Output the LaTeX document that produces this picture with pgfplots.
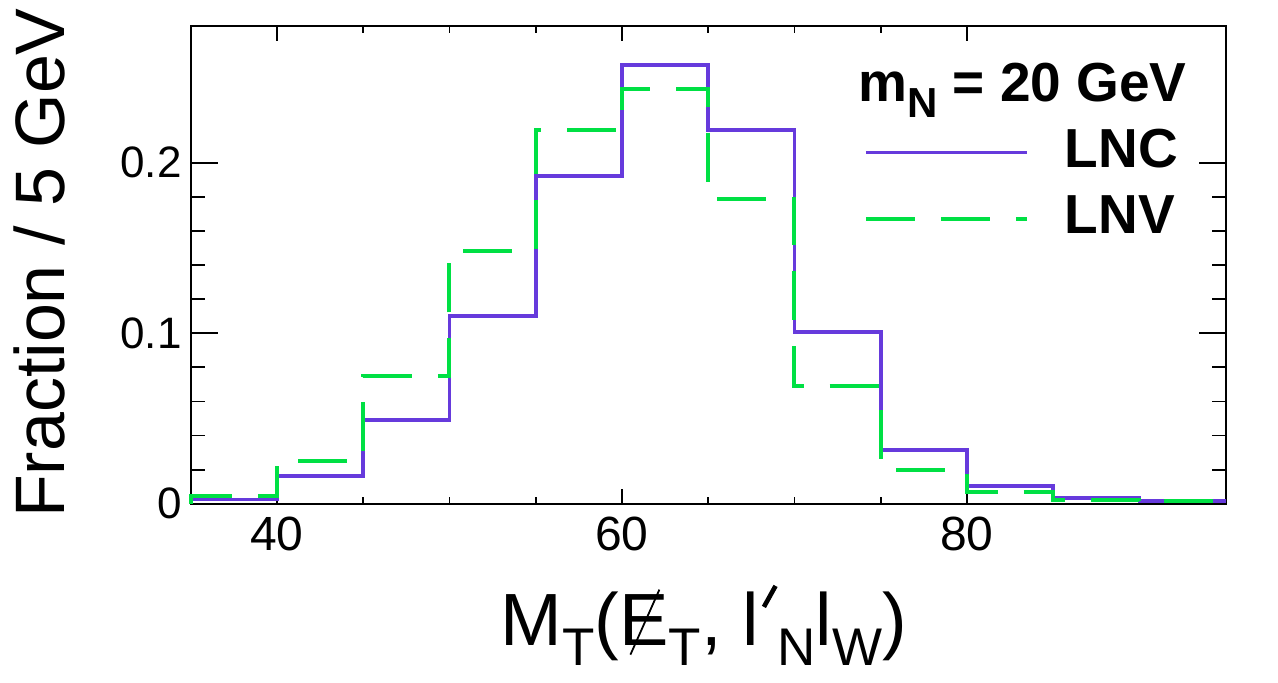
\documentclass[border=0pt]{standalone}
\usepackage{fontspec}
\setmainfont{Liberation Sans}
\usepackage{graphicx}
\usepackage{pgfplots}
\pgfplotsset{compat=1.18}
\definecolor{lnc}{RGB}{102,58,220}
\definecolor{lnv}{RGB}{0,224,68}
\newcommand\xsub[1]{\raisebox{-10pt}{\fontsize{26.5pt}{26.5pt}\selectfont #1}}
\begin{document}
\begin{tikzpicture}
\useasboundingbox (0,0) rectangle (639pt,341pt);
\begin{axis}[
  at={(95.35pt,89.15pt)}, anchor=south west,
  scale only axis, width=517.5pt, height=238.7pt,
  xmin=35, xmax=95, ymin=0, ymax=0.28,
  clip=false,
  xtick={40,60,80}, xticklabels={40,60,80}, minor x tick num=3,
  ytick={0,0.1,0.2}, yticklabels={0,0.1,0.2}, minor y tick num=4,
  /pgf/number format/assume math mode=true,
  axis line style={line width=1pt},
  every tick/.style={black, line width=0.9pt},
  xtick style={/pgfplots/major tick length=7.5pt, /pgfplots/minor tick length=3.5pt},
  ytick style={/pgfplots/major tick length=13.5pt, /pgfplots/minor tick length=7pt},
  yticklabel style={font=\fontsize{22pt}{22pt}\selectfont, inner sep=0pt, xshift=-4.35pt},
  xticklabel style={font=\fontsize{24pt}{24pt}\selectfont, inner sep=0pt, yshift=-6.5pt},
]
\addplot[const plot, color=lnc, line width=1.9pt, line join=miter] coordinates {
 (35,0) (35,0.0025) (40,0.0161) (45,0.0491) (50,0.1102) (55,0.1923) (60,0.2573)
 (65,0.2193) (70,0.1008) (75,0.0313) (80,0.0104) (85,0.0035) (90,0.0016) (95,0.0016)};
\addplot[const plot, color=lnv, line width=2pt, line join=miter, dash pattern=on 24.5pt off 13pt] coordinates {
 (35,0) (35,0.0045) (40,0.025) (45,0.075) (50,0.148) (55,0.219) (60,0.243)
 (65,0.179) (70,0.069) (75,0.020) (80,0.0068) (85,0.0023) (90,0.0014) (95,0.0014)};

\node[anchor=base east, inner sep=0pt, font=\fontsize{27.5pt}{27.5pt}\selectfont\bfseries]
  at (axis description cs:0.9626,0.8427) {m\raisebox{-7.8pt}{\fontsize{21pt}{21pt}\selectfont N} = 20 GeV};
\draw[lnc, line width=1.9pt] (axis description cs:0.6524,0.7357) -- (axis description cs:0.8080,0.7357);
\node[anchor=base west, inner sep=0pt, font=\fontsize{27.5pt}{27.5pt}\selectfont\bfseries]
  at (axis description cs:0.8443,0.7032) {LNC};
\draw[lnv, line width=2pt, dash pattern=on 24.5pt off 13pt] (axis description cs:0.6524,0.5972) -- (axis description cs:0.8080,0.5972);
\node[anchor=base west, inner sep=0pt, font=\fontsize{27.5pt}{27.5pt}\selectfont\bfseries]
  at (axis description cs:0.8443,0.5670) {LNV};

\node[rotate=90, anchor=base, inner sep=0pt, font=\fontsize{35pt}{35pt}\selectfont]
  at (axis description cs:-0.1215,0.504) {Fraction / 5 GeV};
\node[anchor=base, inner sep=0pt, font=\fontsize{37pt}{37pt}\selectfont]
  at (axis description cs:0.4959,-0.296)
  {M\xsub{T}(\makebox[0pt][l]{\hspace{5pt}\raisebox{-5pt}{\rotatebox{66}{\rule{35.6pt}{0.9pt}}}}E\xsub{T}, l\hspace{1.5pt}\raisebox{18.5pt}{\rotatebox{61}{\rule{12pt}{2.3pt}}}\xsub{N}l\xsub{W})};
\end{axis}
\end{tikzpicture}
\end{document}
